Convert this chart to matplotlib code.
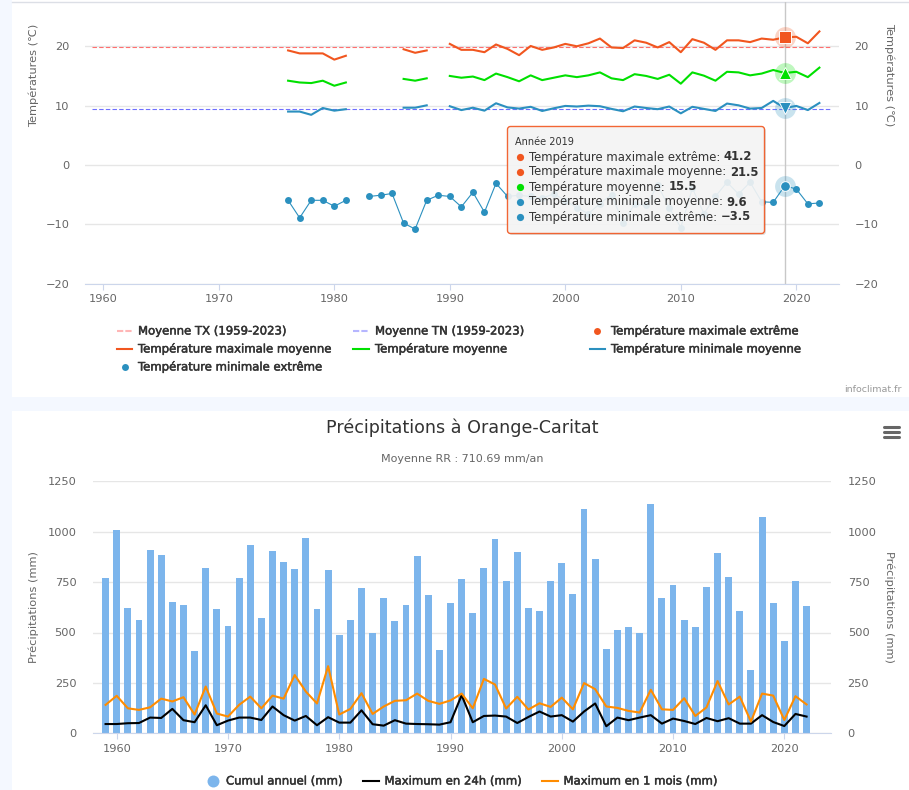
import numpy as np
import matplotlib
matplotlib.use("Agg")
import matplotlib.pyplot as plt
import matplotlib.patheffects as pe
from matplotlib.patches import FancyBboxPatch, Rectangle

W, H = 909, 790

years_temp = list(range(1976, 2023))
tx_mean = [19.3, 18.8, 18.8, 18.8, 17.75, 18.4, None, None, None, None, 19.5, 18.9, 19.3, None,
           20.4, 19.4, 19.4, 19.0, 20.3, 19.55, 18.5, 20.05, 19.4, 19.8, 20.4, 20.0, 20.5, 21.3,
           19.8, 19.7, 21.0, 20.6, 19.8, 20.7, 19.0, 21.2, 20.6, 19.4, 21.0, 21.0, 20.7, 21.3,
           21.1, 21.5, 21.6, 20.5, 22.5]
tm_mean = [14.2, 13.9, 13.8, 14.2, 13.35, 13.9, None, None, None, None, 14.5, 14.2, 14.6, None,
           15.0, 14.7, 14.9, 14.3, 15.4, 14.8, 14.1, 15.1, 14.3, 14.7, 15.1, 14.8, 15.1, 15.6,
           14.6, 14.3, 15.3, 15.0, 14.5, 15.2, 13.7, 15.6, 15.05, 14.2, 15.7, 15.6, 15.1, 15.4,
           16.0, 15.5, 15.7, 14.8, 16.4]
tn_mean = [9.0, 9.0, 8.45, 9.6, 9.15, 9.4, None, None, None, None, 9.65, 9.65, 10.05, None,
           9.9, 9.25, 9.65, 9.15, 10.4, 9.7, 9.5, 9.8, 9.1, 9.55, 9.95, 9.85, 10.0, 9.9,
           9.45, 9.05, 9.85, 9.6, 9.4, 9.85, 8.7, 9.8, 9.45, 9.1, 10.35, 10.05, 9.5, 9.6,
           10.8, 9.6, 9.95, 9.25, 10.45]
tn_extreme = [-5.95, -8.9, -5.95, -5.95, -6.95, -5.95, None, -5.3, -5.1, -4.8, -9.8, -10.8, -5.95,
              -5.1, -5.3, -7.05, -4.6, -7.95, -3.1, -5.3, -5.1, -5.3, -5.6, -4.85, -6.0, -7.2,
              -8.2, -6.5, -5.0, -9.7, -6.6, -6.8, -3.4, -7.2, -10.55, -3.9, -8.2, -5.3, -2.9,
              -4.9, -2.9, -6.2, -6.3, -3.5, -4.05, -6.55, -6.4]
tx_normal = 19.9
tn_normal = 9.5
normal_years = [1959, 2023]

years_rain = list(range(1959, 2023))
rain_year = [768, 1007, 623, 564, 907, 882, 653, 638, 410, 818, 619, 534, 768, 932, 574, 902,
             852, 813, 967, 619, 808, 489, 564, 723, 499, 673, 559, 638, 877, 688, 415, 648,
             763, 599, 818, 962, 753, 897, 624, 609, 753, 847, 693, 1111, 867, 420, 514, 529,
             499, 1136, 673, 738, 564, 529, 728, 892, 773, 609, 315, 1071, 648, 459, 753, 633]
rain_month = [141, 186, 124, 116, 129, 172, 158, 179, 93, 232, 98, 83, 141, 182, 124, 187,
              172, 289, 207, 148, 333, 93, 121, 199, 96, 133, 161, 164, 197, 161, 146, 163,
              197, 124, 270, 242, 123, 181, 118, 149, 131, 177, 119, 249, 219, 133, 126, 111,
              103, 216, 119, 116, 174, 86, 128, 259, 143, 182, 58, 197, 187, 66, 184, 143]
rain_day = [46, 46, 50, 51, 78, 76, 121, 65, 55, 139, 40, 63, 78, 78, 66, 133,
            90, 63, 86, 40, 80, 53, 53, 114, 45, 38, 65, 48, 46, 45, 43, 55,
            189, 55, 86, 88, 83, 51, 81, 108, 83, 90, 58, 108, 148, 35, 78, 65,
            78, 90, 48, 73, 61, 46, 76, 60, 75, 48, 48, 90, 56, 36, 96, 83]

temp_ticks = [-20, -10, 0, 10, 20]
rain_ticks = [0, 250, 500, 750, 1000, 1250]
year_ticks = [1960, 1970, 1980, 1990, 2000, 2010, 2020]

tooltip_labels = ["Température maximale extrême:", "Température maximale moyenne:",
                  "Température moyenne:", "Température minimale moyenne:",
                  "Température minimale extrême:"]
tooltip_values = ["41.2", "21.5", "15.5", "9.6", "−3.5"]

RED = "#f1561f"
GREEN = "#00e000"
BLUE = "#2b90bf"
BAR = "#7cb5ec"
ORANGE = "#ff8c00"
GRID = "#e6e6e6"
AXIS = "#ccd6eb"
TEXT = "#666666"
LEG = "#333333"


def nan(values):
    return np.array([np.nan if v is None else v for v in values], dtype=float)


def px_axes(left, top, right, bottom, zorder=1):
    a = fig.add_axes([left / W, 1 - bottom / H, (right - left) / W, (bottom - top) / H], zorder=zorder)
    a.patch.set_alpha(0)
    return a


def style_axes(a, ticks, pad):
    for s in ["top", "left", "right"]:
        a.spines[s].set_visible(False)
    a.spines["bottom"].set_color(AXIS)
    a.set_yticks(ticks)
    a.set_xticks(year_ticks)
    a.grid(axis="y", color=GRID, lw=1)
    a.set_axisbelow(True)
    a.tick_params(axis="y", length=0, pad=pad, labelsize=8.2, labelcolor=TEXT, labelright=True)
    a.tick_params(axis="x", length=4.5, width=0.8, color=AXIS, pad=3, labelsize=8.2, labelcolor=TEXT)


fig = plt.figure(figsize=(W / 100, H / 100), dpi=100, facecolor="white")

# page background and full-figure overlay, both in pixel coordinates
bg = px_axes(0, 0, W, H, zorder=0)
bg.set_xlim(0, W)
bg.set_ylim(H, 0)
bg.axis("off")
bg.add_patch(Rectangle((0, 0), 12, H, color="#f4f8ff", lw=0))
bg.add_patch(Rectangle((0, 397), W, 14, color="#f4f8ff", lw=0))
bg.plot([12, W], [2.3, 2.3], color="#dcdfe6", lw=1)

over = px_axes(0, 0, W, H, zorder=5)
over.set_xlim(0, W)
over.set_ylim(H, 0)
over.axis("off")

# temperatures
ax = px_axes(85, 2.3, 839, 283.7)
ax.set_xlim(1960 - (103.3 - 85) / 11.55, 1960 + (839 - 103.3) / 11.55)
ax.set_ylim(-20, 20 + (46.3 - 2.3) / 5.94)
style_axes(ax, temp_ticks, 11)
ax.axvline(2019, color="#c8c8c8", lw=1, zorder=1)
ax.plot(normal_years, [tx_normal, tx_normal], color="#ff6f6f", lw=0.8, ls=(0, (4, 2)))
ax.plot(normal_years, [tn_normal, tn_normal], color="#6f6fff", lw=0.8, ls=(0, (4, 2)))
ax.plot(years_temp, nan(tx_mean), color=RED, lw=1.5)
ax.plot(years_temp, nan(tm_mean), color=GREEN, lw=1.5)
ax.plot(years_temp, nan(tn_mean), color=BLUE, lw=1.5)
ax.plot(years_temp, nan(tn_extreme), color=BLUE, lw=0.8, marker="o", ms=5, mew=0)

i = years_temp.index(2019)
for series, color, marker, size in [(tx_mean, RED, "s", 8.2), (tm_mean, GREEN, "^", 8.5),
                                    (tn_mean, BLUE, "v", 8.5), (tn_extreme, BLUE, "o", 7)]:
    ax.plot([2019], [series[i]], marker="o", ms=15, color=color, alpha=0.25, mew=0, zorder=4)
    ax.plot([2019], [series[i]], marker=marker, ms=size, color=color, mec="white", mew=0.7, zorder=5)

# precipitations
ax2 = px_axes(93, 481.3, 831, 733.3)
ax2.set_xlim(1960 - (116.7 - 93) / 11.127, 1960 + (831 - 116.7) / 11.127)
ax2.set_ylim(0, 1250)
style_axes(ax2, rain_ticks, 12)
ax2.bar(years_rain, rain_year, width=0.62, color=BAR, zorder=2)
ax2.plot(years_rain, rain_day, color="black", lw=1.5, zorder=3)
ax2.plot(years_rain, rain_month, color=ORANGE, lw=1.5, zorder=4)

# axis titles
for x, y, s, rot in [(34, 75, "Températures (℃)", 90), (889, 75, "Températures (℃)", 270),
                     (34, 607, "Précipitations (mm)", 90), (889, 607, "Précipitations (mm)", 270)]:
    over.text(x, y, s, rotation=rot, ha="center", va="center", fontsize=8.2, color=TEXT)

# top legend, thin stroke for the semi-bold look
leg_kw = dict(va="center", fontsize=8.4, color=LEG,
              path_effects=[pe.withStroke(linewidth=0.35, foreground=LEG)])
for y, x1, x2, tx, color, ls, alpha, s in [
        (331, 117, 132, 138, "#ff6f6f", (0, (3, 1)), 0.5, "Moyenne TX (1959-2023)"),
        (331, 353, 369, 375, "#6f6fff", (0, (3, 1)), 0.5, "Moyenne TN (1959-2023)"),
        (349, 117, 132, 138, RED, "-", 1, "Température maximale moyenne"),
        (349, 353, 369, 375, GREEN, "-", 1, "Température moyenne"),
        (349, 590, 605, 611, BLUE, "-", 1, "Température minimale moyenne")]:
    over.plot([x1, x2], [y, y], color=color, lw=1.5, ls=ls, alpha=alpha)
    over.text(tx, y, s, **leg_kw)
over.plot([597], [331], marker="o", ms=5, color=RED, mew=0)
over.text(611, 331, "Température maximale extrême", **leg_kw)
over.plot([125], [367], marker="o", ms=5, color=BLUE, mew=0)
over.text(138, 367, "Température minimale extrême", **leg_kw)
over.text(902, 389, "infoclimat.fr", ha="right", va="center", fontsize=6.8, color="#999999")

# bottom legend
over.plot([212.5], [781], marker="o", ms=8.6, color=BAR, mew=0)
over.text(226, 781, "Cumul annuel (mm)", **leg_kw)
over.plot([363, 379], [781, 781], color="black", lw=1.5)
over.text(384.5, 781, "Maximum en 24h (mm)", **leg_kw)
over.plot([542, 558], [781, 781], color=ORANGE, lw=1.5)
over.text(563.5, 781, "Maximum en 1 mois (mm)", **leg_kw)

# titles
over.text(462, 428, "Précipitations à Orange-Caritat", ha="center", va="center", fontsize=12.6, color="#333333")
over.text(462, 459, "Moyenne RR : 710.69 mm/an", ha="center", va="center", fontsize=8, color=TEXT)
for y in [427, 432, 437]:
    over.plot([884, 899], [y, y], color="#666666", lw=2.2, solid_capstyle="round")

# tooltip
over.add_patch(FancyBboxPatch((509, 128), 257, 107, boxstyle="round,pad=0,rounding_size=3",
                              fc="black", ec="none", alpha=0.12))
over.add_patch(FancyBboxPatch((507.5, 126.5), 257, 107, boxstyle="round,pad=0,rounding_size=3",
                              fc="#f7f7f7", ec=RED, lw=1, alpha=0.9))
over.text(515, 142, "Année 2019", va="center", fontsize=7, color="#333333")
bullet_colors = [RED, RED, GREEN, BLUE, BLUE]
for k, (lab, val) in enumerate(zip(tooltip_labels, tooltip_values)):
    y = 157 + 15 * k
    over.plot([520], [y], marker="o", ms=5.2, color=bullet_colors[k], mew=0)
    t = over.text(529, y, lab, va="center", fontsize=8.4, color="#333333")
    over.annotate(val, xy=(1, 0.5), xycoords=t, xytext=(2.5, 0), textcoords="offset points",
                  va="center", fontsize=8.4, color="#333333", fontweight="bold")

fig.savefig("out.png", dpi=100)
